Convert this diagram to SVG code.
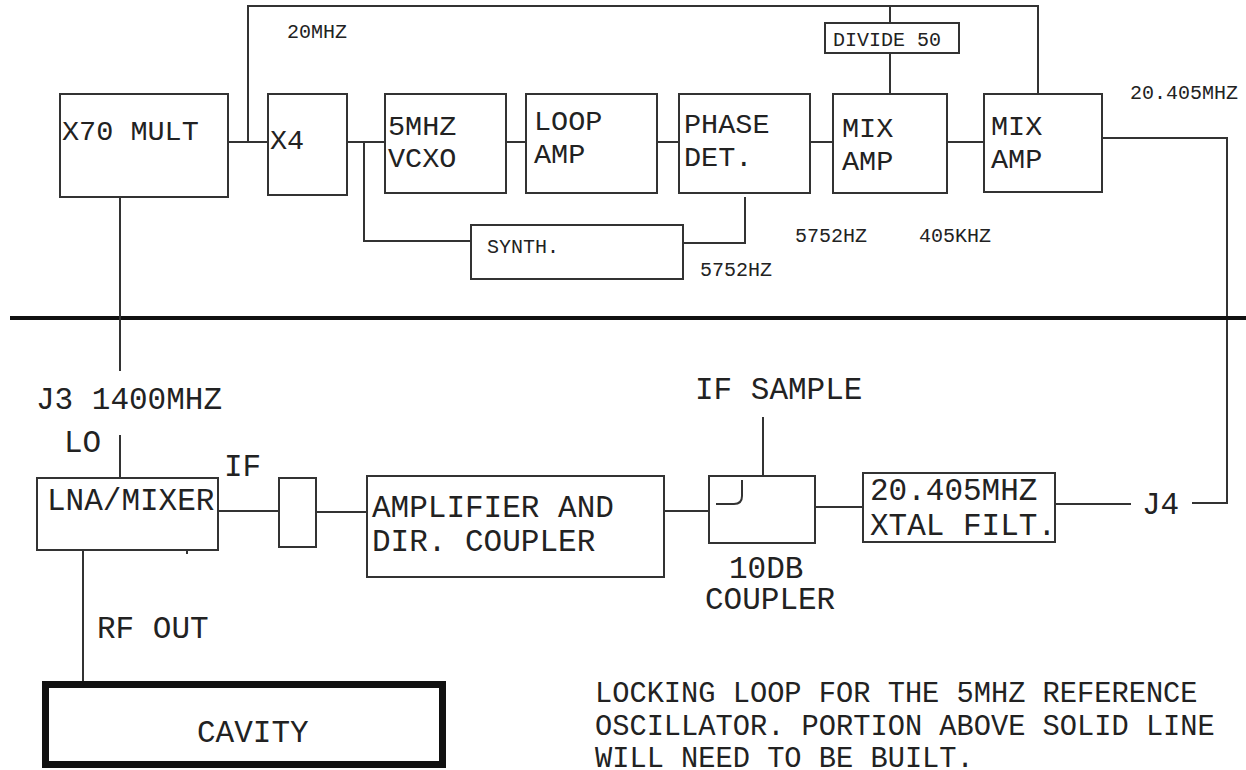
<svg xmlns="http://www.w3.org/2000/svg" width="1246" height="770" viewBox="0 0 1246 770">
<style>
.b{fill:#fff;stroke:#333;stroke-width:2}
.w{fill:none;stroke:#333;stroke-width:2}
text{font-family:"Liberation Mono","Courier New",monospace;fill:#222}
.t{font-size:28.5px}
.u{font-size:31px}
.n{font-size:28.7px}
.s{font-size:20px}
</style>
<rect width="1246" height="770" fill="#fff"/>
<g id="connectors">
<polyline class="w" points="248,142 248,6 1038,6 1038,94"/>
<line class="w" x1="890" y1="6" x2="890" y2="23"/>
<line class="w" x1="890" y1="53" x2="890" y2="94"/>
<line class="w" x1="228" y1="142" x2="268" y2="142"/>
<line class="w" x1="347" y1="142" x2="385" y2="142"/>
<polyline class="w" points="364,142 364,241 471,241"/>
<line class="w" x1="506" y1="142" x2="526" y2="142"/>
<line class="w" x1="657" y1="142" x2="679" y2="142"/>
<line class="w" x1="810" y1="142" x2="833" y2="142"/>
<polyline class="w" points="745,197 745,243 683,243"/>
<line class="w" x1="947" y1="142" x2="984" y2="142"/>
<polyline class="w" points="1102,138 1227,138 1227,503 1192,503"/>
<line x1="10" y1="318" x2="1246" y2="318" stroke="#111" stroke-width="4"/>
<line class="w" x1="120" y1="197" x2="120" y2="371"/>
<line class="w" x1="120" y1="435" x2="120" y2="478"/>
<line class="w" x1="187" y1="550" x2="187" y2="554"/>
<line class="w" x1="218" y1="511" x2="279" y2="511"/>
<line class="w" x1="316" y1="512" x2="367" y2="512"/>
<line class="w" x1="664" y1="511" x2="709" y2="511"/>
<line class="w" x1="763" y1="476" x2="763" y2="417"/>
<line class="w" x1="815" y1="507" x2="863" y2="507"/>
<line class="w" x1="1055" y1="504" x2="1131" y2="504"/>
<line class="w" x1="83" y1="550" x2="83" y2="681"/>
</g>
<g id="x70">
<rect class="b" x="60" y="94" width="168" height="103"/>
<text class="t" x="62" y="140">X70 MULT</text>
</g>
<g id="x4">
<rect class="b" x="268" y="94" width="79" height="101"/>
<text class="t" x="270" y="149">X4</text>
</g>
<g id="vcxo">
<rect class="b" x="385" y="94" width="121" height="99"/>
<text class="t" x="388" y="135">5MHZ</text>
<text class="t" x="388" y="167">VCXO</text>
</g>
<g id="loopamp">
<rect class="b" x="526" y="94" width="131" height="99"/>
<text class="t" x="534" y="130">LOOP</text>
<text class="t" x="534" y="163">AMP</text>
</g>
<g id="phasedet">
<rect class="b" x="679" y="94" width="131" height="99"/>
<text class="t" x="684" y="133">PHASE</text>
<text class="t" x="684" y="166">DET.</text>
</g>
<g id="divide50">
<rect class="b" x="825" y="23" width="134" height="30"/>
<text class="s" x="833" y="46">DIVIDE 50</text>
</g>
<g id="mixamp1">
<rect class="b" x="833" y="94" width="114" height="99"/>
<text class="t" x="842" y="137">MIX</text>
<text class="t" x="842" y="170">AMP</text>
</g>
<g id="mixamp2">
<rect class="b" x="984" y="94" width="118" height="98"/>
<text class="t" x="991" y="135">MIX</text>
<text class="t" x="991" y="168">AMP</text>
</g>
<g id="synth">
<rect class="b" x="471" y="225" width="212" height="54"/>
<text class="s" x="487" y="253">SYNTH.</text>
</g>
<g id="labels">
<text class="s" x="287" y="38">20MHZ</text>
<text class="s" x="700" y="276">5752HZ</text>
<text class="s" x="795" y="242">5752HZ</text>
<text class="s" x="919" y="242">405KHZ</text>
<text class="s" x="1130" y="99">20.405MHZ</text>
<text class="u" x="36" y="409">J3 1400MHZ</text>
<text class="u" x="64" y="452">LO</text>
<text class="u" x="224" y="476">IF</text>
<text class="u" x="695" y="399">IF SAMPLE</text>
<text class="u" x="729" y="578">10DB</text>
<text class="u" x="705" y="609">COUPLER</text>
<text class="u" x="1142" y="514">J4</text>
<text class="u" x="97" y="638">RF OUT</text>
<text class="n" x="595" y="702">LOCKING LOOP FOR THE 5MHZ REFERENCE</text>
<text class="n" x="595" y="735">OSCILLATOR. PORTION ABOVE SOLID LINE</text>
<text class="n" x="595" y="767">WILL NEED TO BE BUILT.</text>
</g>
<g id="lnamixer">
<rect class="b" x="37" y="478" width="181" height="72"/>
<text class="u" x="47" y="510">LNA/MIXER</text>
</g>
<g id="smallbox">
<rect class="b" x="279" y="478" width="37" height="69"/>
</g>
<g id="amplifier">
<rect class="b" x="367" y="476" width="297" height="101"/>
<text class="u" x="372" y="517">AMPLIFIER AND</text>
<text class="u" x="372" y="551">DIR. COUPLER</text>
</g>
<g id="coupler">
<rect class="b" x="709" y="476" width="106" height="67"/>
<path class="w" d="M716 504 H734 Q742 504 742 496 V480"/>
</g>
<g id="xtalfilt">
<rect class="b" x="863" y="473" width="192" height="69"/>
<text class="u" x="870" y="500">20.405MHZ</text>
<text class="u" x="870" y="535">XTAL FILT.</text>
</g>
<g id="cavity">
<rect x="45.5" y="684.5" width="397" height="80" fill="#fff" stroke="#111" stroke-width="7"/>
<text class="u" x="197" y="742">CAVITY</text>
</g>
</svg>
